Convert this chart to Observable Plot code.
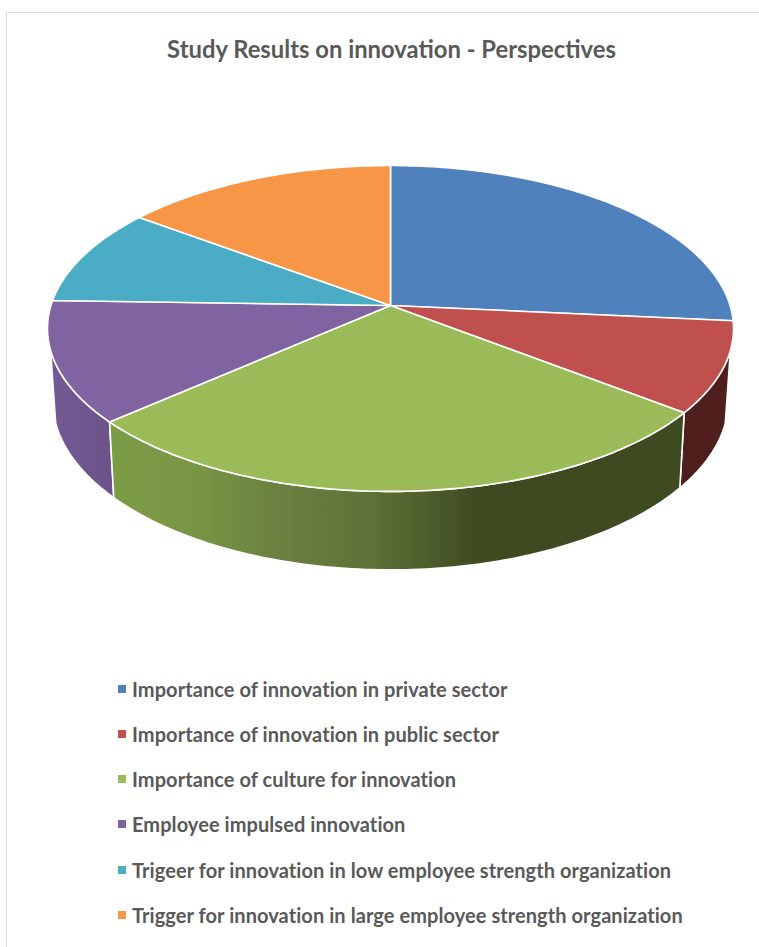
<!DOCTYPE html>
<html>
<head>
<meta charset="utf-8">
<script src="https://cdn.jsdelivr.net/npm/d3@7"></script>
<script src="https://cdn.jsdelivr.net/npm/@observablehq/plot@0.6"></script>
<style>
  html, body { margin: 0; padding: 0; background: #fff; overflow: hidden; }
  #card {
    position: absolute; left: 6px; top: 12px; width: 760px; height: 950px;
    border: 1.5px solid #d9d9d9; box-sizing: border-box;
  }
  #title {
    position: absolute; left: 0; top: 35px; width: 759px; text-align: center;
    font: 700 23.8px/28px Lato, sans-serif; color: #595959; padding-left: 24px; box-sizing: border-box;
  }
  #chart { position: absolute; left: 0; top: 100px; }
  #legend { position: absolute; left: 118px; top: 666px; }
  .item {
    height: 45.25px; display: flex; align-items: center;
    font: 700 20px Lato, sans-serif; letter-spacing: 0.07px; color: #595959; white-space: nowrap;
  }
  .swatch { width: 8px; height: 8px; margin-right: 6px; flex: none; }
</style>
</head>
<body>
<div id="card"></div>
<div id="title">Study Results on innovation - Perspectives</div>
<div id="chart"></div>
<div id="legend"></div>
<script>
const categories = [
  "Importance of innovation in private sector",
  "Importance of innovation in public sector",
  "Importance of culture for innovation",
  "Employee impulsed innovation",
  "Trigeer for innovation in low employee strength organization",
  "Trigger for innovation in large employee strength organization"
];
const shares = [26.5, 9, 28, 12, 9.7, 14.8];
const colors = ["#4f81bd", "#c0504d", "#9bbb59", "#8064a2", "#4bacc6", "#f79646"];

// Fill of the rim wall for each slice that shows one
const wallFills = {
  1: "#4f1f1e",
  2: "url(#cultureWall)",
  3: "url(#impulseWall)"
};

// Perspective of the tilted disc
const tilt = 0.141;
const wallDrop = 0.445;
const wallScaleX = 0.985;
const wallScaleY = 1.04;
// The rim only shows below this angle (degrees clockwise from the top)
const rimStart = 105.7;
const rimEnd = 254.3;

function project(deg, radius = 1) {
  const a = deg * Math.PI / 180;
  const u = radius * Math.sin(a), v = -radius * Math.cos(a);
  const w = 1 - tilt * v;
  return [u / w, v / w];
}

const total = d3.sum(shares);
const edges = d3.cumsum(shares).map(s => s / total * 360);
const slices = categories.map((name, i) => ({
  name, index: i, start: i ? edges[i - 1] : 0, end: edges[i]
}));

function arcAngles(a, b) {
  const n = Math.max(2, Math.ceil(b - a));
  return d3.range(n + 1).map(k => a + (b - a) * k / n);
}

const topOutline = slices.flatMap(s => {
  const rim = arcAngles(s.start, s.end).map(deg => {
    const [x, y] = project(deg);
    return { name: s.name, x, y };
  });
  return [{ name: s.name, x: 0, y: 0 }, ...rim, { name: s.name, x: 0, y: 0 }];
});

function wallOutline(s) {
  const a = Math.max(s.start, rimStart), b = Math.min(s.end, rimEnd);
  const degs = arcAngles(a, b);
  const upper = degs.map(deg => {
    const [x, y] = project(deg);
    return { x, y };
  });
  const lower = degs.slice().reverse().map(deg => {
    const [x, y] = project(deg);
    return { x: x * wallScaleX, y: y * wallScaleY + wallDrop };
  });
  return [...upper, ...lower, upper[0]];
}

function stops(id, list) {
  const g = d3.create("svg:linearGradient").attr("id", id);
  for (const [offset, color] of list) {
    g.append("stop").attr("offset", offset).attr("stop-color", color);
  }
  return g.node();
}

const gradients = () => {
  const defs = d3.create("svg:defs");
  defs.append(() => stops("cultureWall", [
    [0, "#7d9c47"], [0.15, "#789545"], [0.3, "#6a8040"], [0.45, "#5f7237"],
    [0.55, "#4e5e2c"], [0.64, "#3e4a20"], [1, "#3e4a20"]
  ]));
  defs.append(() => stops("impulseWall", [
    [0, "#735a96"], [1, "#6b5288"]
  ]));
  return defs.node();
};

const wallOrder = [3, 1, 2];

const plot = Plot.plot({
  width: 759,
  height: 480,
  margin: 0,
  x: { axis: null, domain: [-390 / 339.6, 369 / 339.6] },
  y: { axis: null, domain: [-205 / 159.7, 275 / 159.7], reverse: true },
  color: { domain: categories, range: colors },
  marks: [
    gradients,
    ...wallOrder.map(i => Plot.line(wallOutline(slices[i]), {
      x: "x", y: "y", fill: wallFills[i], stroke: "white", strokeWidth: 1.6
    })),
    Plot.line(topOutline, {
      x: "x", y: "y", z: "name", fill: "name", stroke: "white", strokeWidth: 1.6
    })
  ]
});
document.getElementById("chart").append(plot);

const legend = d3.select("#legend");
categories.forEach((name, i) => {
  const row = legend.append("div").attr("class", "item");
  row.append("span").attr("class", "swatch").style("background", colors[i]);
  row.append("span").text(name);
});
</script>
</body>
</html>
